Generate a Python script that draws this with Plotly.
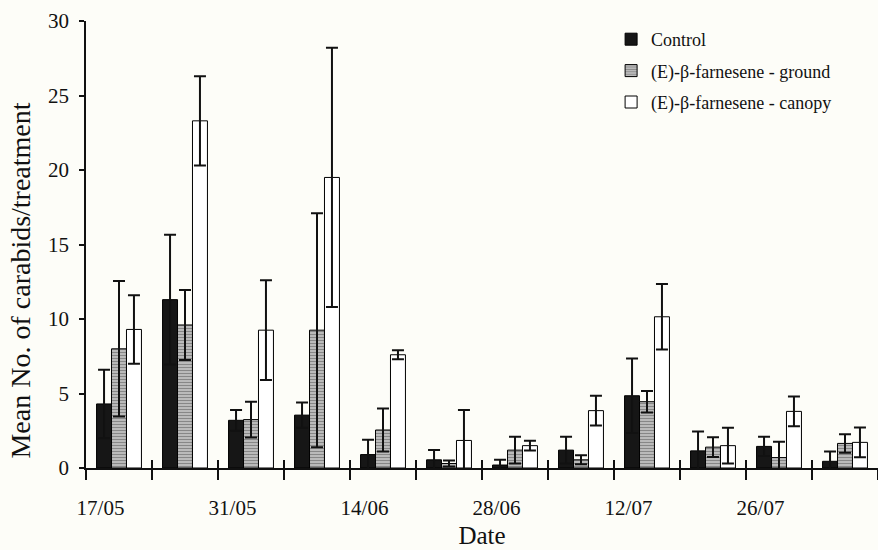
import plotly.graph_objects as go

# ---- data ----
dates = ["17/05", "24/05", "31/05", "07/06", "14/06", "21/06",
         "28/06", "05/07", "12/07", "19/07", "26/07", "02/08"]
tick_labels = ["17/05", "31/05", "14/06", "28/06", "12/07", "26/07"]

control = [4.3, 11.3, 3.2, 3.55, 0.9, 0.55, 0.2, 1.2, 4.85, 1.15, 1.45, 0.45]
control_se = [2.3, 4.35, 0.7, 0.85, 1.0, 0.65, 0.35, 0.9, 2.5, 1.3, 0.65, 0.65]

ground = [8.0, 9.6, 3.25, 9.25, 2.55, 0.3, 1.2, 0.55, 4.45, 1.4, 0.7, 1.65]
ground_se = [4.55, 2.35, 1.2, 7.85, 1.45, 0.2, 0.9, 0.3, 0.72, 0.67, 1.07, 0.62]

canopy = [9.3, 23.3, 9.25, 19.5, 7.6, 1.85, 1.5, 3.85, 10.15, 1.5, 3.8, 1.72]
canopy_se = [2.3, 3.0, 3.35, 8.7, 0.3, 2.05, 0.33, 1.0, 2.2, 1.2, 1.0, 1.0]

names = ["Control", "(E)-β-farnesene - ground", "(E)-β-farnesene - canopy"]

BG = "#fdfdf8"
FONT = "Liberation Serif"

x = list(range(len(dates)))
label_pos = [i - 0.28 for i in range(0, len(dates), 2)]
bounds = [i - 0.5 for i in range(len(dates) + 1)]

def err(a):
    return dict(type="data", array=a, visible=True, color="#111111",
                thickness=2, width=6)

fig = go.Figure()
fig.add_trace(go.Bar(
    x=x, y=control, name=names[0], error_y=err(control_se),
    marker=dict(color="#161616", line=dict(color="#000000", width=1)),
    legendgroup="a"))
fig.add_trace(go.Bar(
    x=x, y=ground, name=names[1], error_y=err(ground_se),
    marker=dict(color="#c4c4c4", line=dict(color="#000000", width=1),
                pattern=dict(shape="-", fgcolor="#4a4a4a", bgcolor="#c4c4c4",
                             size=3, solidity=0.45)),
    legendgroup="b"))
fig.add_trace(go.Bar(
    x=x, y=canopy, name=names[2], error_y=err(canopy_se),
    marker=dict(color="#ffffff", line=dict(color="#000000", width=1)),
    legendgroup="c"))
# empty helper trace so the overlaid tick axis (inner half of ticks) is drawn
fig.add_trace(go.Scatter(x=[], y=[], xaxis="x2", yaxis="y",
                         showlegend=False, hoverinfo="skip"))

fig.update_layout(
    width=878, height=550,
    paper_bgcolor=BG, plot_bgcolor=BG,
    margin=dict(l=86, r=0, t=21, b=82),
    barmode="group", bargap=0.32, bargroupgap=0,
    font=dict(family=FONT, color="#111111"),
    showlegend=True,
    legend=dict(x=0.663, y=1.0, xanchor="left", yanchor="top",
                bgcolor="rgba(0,0,0,0)", font=dict(family=FONT, size=18),
                tracegroupgap=5, itemwidth=30),
    xaxis=dict(
        range=[-0.5, len(dates) - 0.5],
        tickmode="array", tickvals=label_pos, ticktext=tick_labels,
        ticks="outside", ticklen=20, tickcolor="rgba(0,0,0,0)",
        tickfont=dict(family=FONT, size=21),
        minor=dict(tickmode="array", tickvals=bounds, ticks="outside",
                   ticklen=10, tickwidth=1.5, tickcolor="#111111"),
        showline=True, linecolor="#111111", linewidth=1.5,
        showgrid=False, zeroline=False,
        title=dict(text="Date", font=dict(family=FONT, size=25), standoff=8),
    ),
    xaxis2=dict(
        overlaying="x", anchor="y", side="bottom",
        range=[-0.5, len(dates) - 0.5],
        tickmode="array", tickvals=bounds, ticktext=[""] * len(bounds),
        ticks="inside", ticklen=8,
        tickwidth=1.5, tickcolor="#111111", showticklabels=False,
        showline=False, showgrid=False, zeroline=False,
    ),
    yaxis=dict(
        range=[0, 30], tickmode="array", tickvals=[0, 5, 10, 15, 20, 25, 30],
        ticks="outside", ticklen=5, tickwidth=1.5, tickcolor="#111111",
        tickfont=dict(family=FONT, size=21), ticklabelstandoff=6,
        showline=True, linecolor="#111111", linewidth=1.5,
        showgrid=False, zeroline=False,
    ),
    annotations=[dict(
        text="Mean No. of carabids/treatment", textangle=-90,
        xref="paper", yref="paper", x=-0.083, y=0.42,
        xanchor="center", yanchor="middle", showarrow=False,
        font=dict(family=FONT, size=28, color="#111111"))],
)

fig.write_html(
    "out.html",
    config={"displayModeBar": False},
    post_script="document.body.style.margin='0';document.body.style.background='%s';" % BG,
)
